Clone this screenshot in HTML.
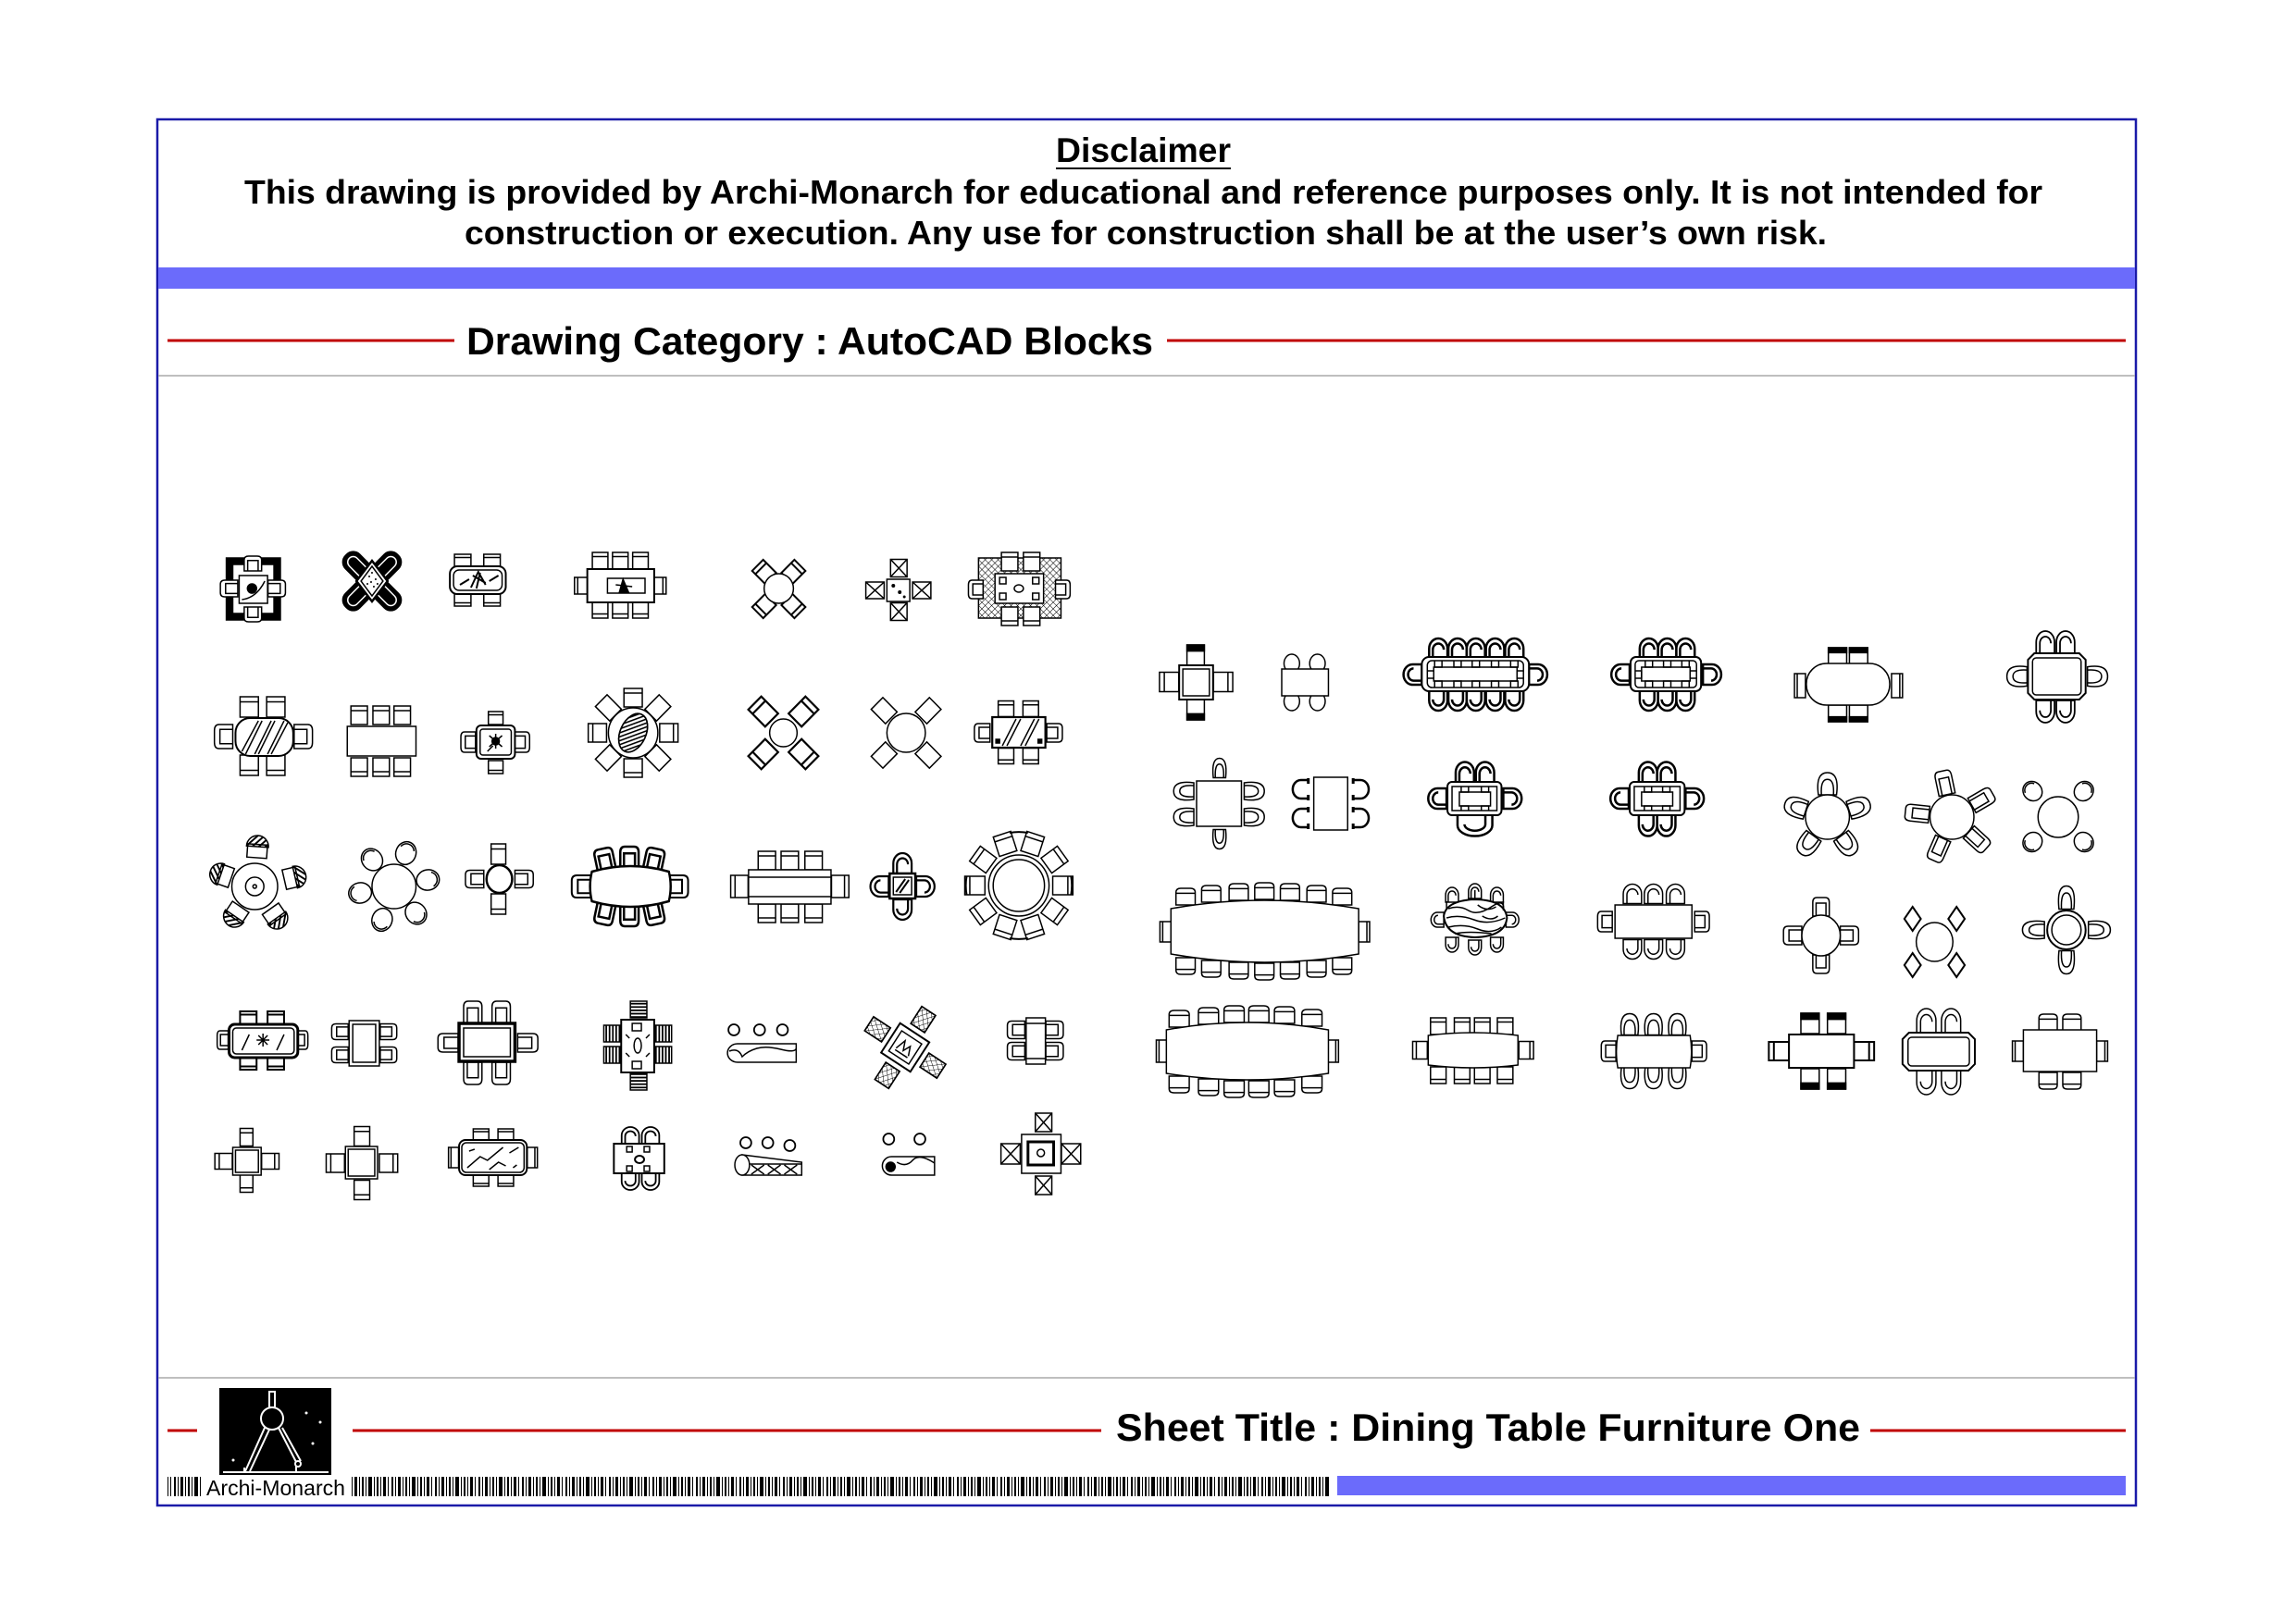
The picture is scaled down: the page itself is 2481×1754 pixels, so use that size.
<!DOCTYPE html>
<html><head><meta charset="utf-8"><style>
html,body{margin:0;padding:0;background:#fff}
svg{display:block}
.f *{vector-effect:non-scaling-stroke}
.t{font-family:"Liberation Sans",Arial,sans-serif;font-weight:bold;fill:#000}
</style></head>
<body>
<svg xmlns="http://www.w3.org/2000/svg" xmlns:xlink="http://www.w3.org/1999/xlink" width="2481" height="1754" viewBox="0 0 2481 1754">
<defs>
<pattern id="ht" width="4" height="4" patternUnits="userSpaceOnUse" patternTransform="rotate(45)"><rect width="1.6" height="4" fill="#000"/></pattern>
<pattern id="hx" width="5" height="5" patternUnits="userSpaceOnUse" patternTransform="rotate(45)"><path d="M0,0V5M0,0H5" stroke="#000" stroke-width="1" fill="none"/></pattern>
<pattern id="hs" width="4" height="4" patternUnits="userSpaceOnUse"><rect width="4" height="2" fill="#000"/></pattern>
<pattern id="bc" width="47" height="30" patternUnits="userSpaceOnUse" x="0" y="1596">
<rect x="0" width="2" height="30"/><rect x="4" width="1" height="30"/><rect x="7" width="3" height="30"/><rect x="12" width="1" height="30"/><rect x="15" width="2" height="30"/><rect x="19" width="1" height="30"/><rect x="22" width="4" height="30"/><rect x="28" width="1" height="30"/><rect x="31" width="2" height="30"/><rect x="35" width="1" height="30"/><rect x="38" width="3" height="30"/><rect x="43" width="1" height="30"/>
</pattern>
<g id="A" class="f"><rect x="-10" y="-10" width="20" height="20"/><line x1="-10" y1="-5" x2="10" y2="-5"/></g>
<g id="B" class="f"><path d="M-10,10V0A10,10 0 0 1 10,0V10Z"/><path d="M-6,10V1A6,6 0 0 1 6,1" fill="none"/></g>
<g id="C" class="f"><path d="M-10,10V-5Q-10,-10 -5,-10H5Q10,-10 10,-5V10Z"/><path d="M-6,10V-4H6V10" fill="none"/></g>
<g id="D" class="f"><rect x="-10" y="-10" width="20" height="20"/><rect x="-10" y="-10" width="20" height="6" fill="#000"/></g>
<g id="H" class="f"><rect x="-9" y="-2" width="18" height="12"/><path d="M-10,0A10,10 0 0 1 10,0Z" fill="url(#ht)"/></g>
<g id="X" class="f"><rect x="-10" y="-10" width="20" height="20"/><path d="M-10,-10L10,10M10,-10L-10,10" fill="none"/></g>
<g id="E" class="f"><ellipse rx="10" ry="10"/><path d="M-7,-4A8,8 0 0 1 7,-4" fill="none"/></g>
<g id="R" class="f"><path d="M-9,10Q-12,-10 0,-10Q12,-10 9,10Z"/><path d="M-6,10Q-7,-4 0,-4Q7,-4 6,10" fill="none"/></g>
<g id="K" class="f"><path d="M-10,8V0A10,9 0 0 1 10,0V8" fill="none" stroke-width="2.5"/><path d="M-12,8H-6M6,8H12" stroke-width="3"/></g>
<g id="S" class="f"><rect x="-10" y="-10" width="20" height="20" fill="url(#hs)"/></g>
<g id="G" class="f"><path d="M-10,10V-5Q-10,-10 -5,-10H5Q10,-10 10,-5V10Z"/><line x1="-10" y1="-4" x2="10" y2="-4"/></g>
<g id="P" class="f"><rect x="-10" y="-10" width="20" height="20"/></g>
<g id="Q" class="f"><rect x="-10" y="-10" width="20" height="20" fill="url(#hx)"/><rect x="-10" y="-10" width="20" height="20" fill="none"/></g>
</defs>

<rect width="2481" height="1754" fill="#fff"/>

<!-- Frame -->
<rect x="170" y="129" width="2138" height="1498" fill="none" stroke="#1a1aa8" stroke-width="2.5"/>
<rect x="171" y="289" width="2136" height="23" fill="#6b6bfb"/>
<line x1="171" y1="406" x2="2307" y2="406" stroke="#aaa" stroke-width="1.5"/>
<line x1="171" y1="1489" x2="2307" y2="1489" stroke="#aaa" stroke-width="1.5"/>

<!-- Header -->
<text class="t" x="1141" y="175" font-size="37" textLength="189" lengthAdjust="spacingAndGlyphs">Disclaimer</text>
<line x1="1141" y1="182" x2="1330" y2="182" stroke="#000" stroke-width="2"/>
<text class="t" x="264" y="220" font-size="36" textLength="1943" lengthAdjust="spacingAndGlyphs">This drawing is provided by Archi-Monarch for educational and reference purposes only. It is not intended for</text>
<text class="t" x="502" y="264" font-size="36" textLength="1472" lengthAdjust="spacingAndGlyphs">construction or execution. Any use for construction shall be at the user’s own risk.</text>

<line x1="181" y1="368" x2="491" y2="368" stroke="#c00000" stroke-width="3"/>
<text class="t" x="504" y="383" font-size="42" textLength="742" lengthAdjust="spacingAndGlyphs">Drawing Category : AutoCAD Blocks</text>
<line x1="1261" y1="368" x2="2297" y2="368" stroke="#c00000" stroke-width="3"/>

<!-- Footer -->
<line x1="181" y1="1546" x2="213" y2="1546" stroke="#c00000" stroke-width="3"/>
<line x1="381" y1="1546" x2="1190" y2="1546" stroke="#c00000" stroke-width="3"/>
<text class="t" x="1206" y="1557" font-size="42" textLength="804" lengthAdjust="spacingAndGlyphs">Sheet Title : Dining Table Furniture One</text>
<line x1="2021" y1="1546" x2="2297" y2="1546" stroke="#c00000" stroke-width="3"/>

<rect x="237" y="1500" width="121" height="94" fill="#000"/>
<g stroke="#fff" stroke-width="2" fill="none">
<rect x="291" y="1504" width="6" height="17"/>
<circle cx="294" cy="1533" r="12"/>
<path d="M286,1543 L265,1590 M291,1545 L270,1590"/>
<path d="M301,1543 L320,1580 M305,1543 L325,1579"/>
<circle cx="322" cy="1582" r="3"/>
<line x1="241" y1="1591" x2="355" y2="1591"/>
<path d="M264,1586v5M320,1584v7"/>
</g>
<g fill="#fff"><circle cx="331" cy="1527" r="1.5"/><circle cx="346" cy="1537" r="1.5"/><circle cx="338" cy="1560" r="1.5"/><circle cx="252" cy="1578" r="1.5"/></g>
<text x="223" y="1616" font-family="Liberation Sans, Arial, sans-serif" font-size="23" textLength="150" lengthAdjust="spacingAndGlyphs" fill="#000">Archi-Monarch</text>
<rect x="181" y="1596" width="38" height="21" fill="url(#bc)"/>
<rect x="378" y="1596" width="1058" height="21" fill="url(#bc)"/>
<rect x="1445" y="1595" width="852" height="21" fill="#6b6bfb"/>

<!-- Furniture -->
<g fill="#fff" stroke="#000" stroke-width="1.5">
<g transform="translate(400,0) scale(0.99,1) translate(-400,0)">

<!-- L1 -->
<rect x="243" y="603" width="59" height="67" fill="#000"/>
<rect x="250" y="610" width="45" height="53" fill="#fff"/>
<use xlink:href="#C" transform="translate(272,609) scale(0.95,0.8)"/>
<use xlink:href="#C" transform="translate(272,664) rotate(180) scale(0.95,0.8)"/>
<use xlink:href="#C" transform="translate(246,636) rotate(-90) scale(0.9,0.95)"/>
<use xlink:href="#C" transform="translate(298,636) rotate(90) scale(0.9,0.95)"/>
<rect x="257" y="622" width="31" height="30"/>
<circle cx="271" cy="636" r="5" fill="#000"/>
<path d="M260,648 Q276,646 285,628" fill="none"/>

<!-- L2 -->
<g transform="translate(402,628)">
<rect x="-40" y="-11" width="80" height="22" rx="10" fill="#000" transform="rotate(45)"/>
<rect x="-40" y="-11" width="80" height="22" rx="10" fill="#000" transform="rotate(-45)"/>
<rect x="-35" y="-6" width="70" height="12" rx="6" fill="none" stroke="#fff" transform="rotate(45)"/>
<rect x="-35" y="-6" width="70" height="12" rx="6" fill="none" stroke="#fff" transform="rotate(-45)"/>
<path d="M0,-22L17,0L0,22L-17,0Z" stroke-width="2.5"/>
<path d="M0,-16L12,0L0,16L-12,0Z" fill="none"/>
<g fill="#000" stroke="none"><circle cx="-3" cy="-5" r="1"/><circle cx="4" cy="-2" r="1"/><circle cx="-5" cy="3" r="1"/><circle cx="2" cy="6" r="1"/><circle cx="6" cy="3" r="1"/><circle cx="0" cy="-9" r="1"/><circle cx="-1" cy="1" r="1"/></g>
</g>

<!-- L3 -->
<use xlink:href="#A" transform="translate(501,606) scale(0.9,0.7)"/>
<use xlink:href="#A" transform="translate(533,606) scale(0.9,0.7)"/>
<use xlink:href="#A" transform="translate(501,648) rotate(180) scale(0.9,0.7)"/>
<use xlink:href="#A" transform="translate(533,648) rotate(180) scale(0.9,0.7)"/>
<rect x="487" y="612" width="61" height="30" rx="8" stroke-width="2"/>
<rect x="491" y="616" width="53" height="22" rx="6" fill="none"/>
<path d="M510,635 L518,618 L526,632 M512,622 L526,630 M520,619 L516,636 M498,632 L508,626 M530,628 L540,622" fill="none" stroke-width="2"/>

<!-- L4 -->
<use xlink:href="#A" transform="translate(651,606) scale(0.85,0.9)"/>
<use xlink:href="#A" transform="translate(673,606) scale(0.85,0.9)"/>
<use xlink:href="#A" transform="translate(695,606) scale(0.85,0.9)"/>
<use xlink:href="#A" transform="translate(651,659) rotate(180) scale(0.85,0.9)"/>
<use xlink:href="#A" transform="translate(673,659) rotate(180) scale(0.85,0.9)"/>
<use xlink:href="#A" transform="translate(695,659) rotate(180) scale(0.85,0.9)"/>
<use xlink:href="#A" transform="translate(630,633) rotate(-90) scale(0.9,0.7)"/>
<use xlink:href="#A" transform="translate(716,633) rotate(90) scale(0.9,0.7)"/>
<rect x="637" y="615" width="73" height="36" stroke-width="2"/>
<rect x="659" y="625" width="41" height="16"/>
<path d="M672,640 L676,626 L682,640 Z M668,632 L686,634" fill="#000"/>

<!-- L5 -->
<use xlink:href="#A" transform="translate(830,618) rotate(-45) scale(0.85,1)" stroke-width="2"/>
<use xlink:href="#A" transform="translate(862,618) rotate(45) scale(0.85,1)" stroke-width="2"/>
<use xlink:href="#A" transform="translate(862,655) rotate(135) scale(0.85,1)" stroke-width="2"/>
<use xlink:href="#A" transform="translate(830,655) rotate(-135) scale(0.85,1)" stroke-width="2"/>
<circle cx="846" cy="636" r="16"/>

<!-- L6 -->
<use xlink:href="#X" transform="translate(977,614) scale(0.9,0.95)"/>
<use xlink:href="#X" transform="translate(977,661) rotate(180) scale(0.9,0.95)"/>
<use xlink:href="#X" transform="translate(951,638) rotate(-90) scale(0.9,1)"/>
<use xlink:href="#X" transform="translate(1002,638) rotate(90) scale(0.9,1)"/>
<rect x="964" y="626" width="25" height="24"/>
<g fill="#000" stroke="none"><circle cx="971" cy="633" r="2"/><circle cx="978" cy="640" r="2"/><circle cx="983" cy="645" r="1.5"/></g>

<!-- L7 -->
<rect x="1064" y="603" width="90" height="65" fill="url(#hx)"/>
<use xlink:href="#A" transform="translate(1098,607) scale(0.9,1)"/>
<use xlink:href="#A" transform="translate(1122,607) scale(0.9,1)"/>
<use xlink:href="#A" transform="translate(1098,666) rotate(180) scale(0.9,1)"/>
<use xlink:href="#A" transform="translate(1122,666) rotate(180) scale(0.9,1)"/>
<use xlink:href="#C" transform="translate(1061,637) rotate(-90) scale(1,0.8)"/>
<use xlink:href="#C" transform="translate(1156,637) rotate(90) scale(1,0.8)"/>
<rect x="1082" y="620" width="53" height="32"/>
<rect x="1087" y="624" width="7" height="7"/><rect x="1123" y="624" width="7" height="7"/><rect x="1087" y="641" width="7" height="7"/><rect x="1123" y="641" width="7" height="7"/>
<ellipse cx="1108" cy="636" rx="5" ry="4"/>

<!-- L8 -->
<use xlink:href="#A" transform="translate(268,764) scale(1,1.1)"/>
<use xlink:href="#A" transform="translate(297,764) scale(1,1.1)"/>
<use xlink:href="#A" transform="translate(268,827) rotate(180) scale(1,1.1)"/>
<use xlink:href="#A" transform="translate(297,827) rotate(180) scale(1,1.1)"/>
<use xlink:href="#C" transform="translate(240,796) rotate(-90) scale(1.3,1)"/>
<use xlink:href="#C" transform="translate(327,796) rotate(90) scale(1.3,1)"/>
<rect x="253" y="776" width="63" height="41" rx="16" stroke-width="2"/>
<path d="M260,812 L278,779 M264,815 L282,779 M274,815 L292,779 M278,815 L296,779 M288,815 L306,779 M292,815 L310,781" fill="none"/>

<!-- L9 -->
<use xlink:href="#A" transform="translate(388,773) scale(0.9,1)"/>
<use xlink:href="#A" transform="translate(412,773) scale(0.9,1)"/>
<use xlink:href="#A" transform="translate(435,773) scale(0.9,1)"/>
<use xlink:href="#A" transform="translate(388,829) rotate(180) scale(0.9,1)"/>
<use xlink:href="#A" transform="translate(412,829) rotate(180) scale(0.9,1)"/>
<use xlink:href="#A" transform="translate(435,829) rotate(180) scale(0.9,1)"/>
<rect x="375" y="785" width="75" height="32"/>

<!-- L10 -->
<use xlink:href="#A" transform="translate(537,776) scale(0.8,0.7)"/>
<use xlink:href="#A" transform="translate(537,829) rotate(180) scale(0.8,0.7)"/>
<use xlink:href="#C" transform="translate(507,802) rotate(-90) scale(1.1,0.8)"/>
<use xlink:href="#C" transform="translate(566,802) rotate(90) scale(1.1,0.8)"/>
<rect x="516" y="784" width="42" height="36" rx="5" stroke-width="2"/>
<rect x="520" y="788" width="34" height="28" rx="3" fill="none"/>
<circle cx="537" cy="801" r="4" fill="#000"/>
<path d="M530,795 L544,807 M544,795 L530,807 M537,793 V809 M528,812 L534,806" fill="none"/>

<!-- L11 -->
<use xlink:href="#A" transform="translate(687,754) scale(1,1)"/>
<use xlink:href="#A" transform="translate(687,830) rotate(180)"/>
<use xlink:href="#A" transform="translate(648,792) rotate(-90)"/>
<use xlink:href="#A" transform="translate(726,792) rotate(90)"/>
<use xlink:href="#P" transform="translate(660,765) rotate(-45) scale(0.9,1.1)"/>
<use xlink:href="#P" transform="translate(714,765) rotate(45) scale(0.9,1.1)"/>
<use xlink:href="#P" transform="translate(714,819) rotate(135) scale(0.9,1.1)"/>
<use xlink:href="#P" transform="translate(660,819) rotate(-135) scale(0.9,1.1)"/>
<circle cx="687" cy="792" r="27"/>
<ellipse cx="687" cy="792" rx="14" ry="22" fill="url(#ht)" transform="rotate(25 687 792)"/>
<ellipse cx="687" cy="792" rx="14" ry="22" fill="none" transform="rotate(25 687 792)"/>

<!-- L12 -->
<use xlink:href="#A" transform="translate(829,769) rotate(-45) scale(1,1.3)" stroke-width="2.2"/>
<use xlink:href="#A" transform="translate(873,769) rotate(45) scale(1,1.3)" stroke-width="2.2"/>
<use xlink:href="#A" transform="translate(873,815) rotate(135) scale(1,1.3)" stroke-width="2.2"/>
<use xlink:href="#A" transform="translate(829,815) rotate(-135) scale(1,1.3)" stroke-width="2.2"/>
<circle cx="851" cy="792" r="15"/>

<!-- L13 -->
<use xlink:href="#P" transform="translate(961,768) rotate(-45) scale(0.9,1.1)"/>
<use xlink:href="#P" transform="translate(1009,768) rotate(45) scale(0.9,1.1)"/>
<use xlink:href="#P" transform="translate(1009,816) rotate(135) scale(0.9,1.1)"/>
<use xlink:href="#P" transform="translate(961,816) rotate(-135) scale(0.9,1.1)"/>
<circle cx="985" cy="792" r="21"/>

<!-- L14 -->
<use xlink:href="#A" transform="translate(1094,766) scale(0.85,0.85)"/>
<use xlink:href="#A" transform="translate(1121,766) scale(0.85,0.85)"/>
<use xlink:href="#A" transform="translate(1094,817) rotate(180) scale(0.85,0.85)"/>
<use xlink:href="#A" transform="translate(1121,817) rotate(180) scale(0.85,0.85)"/>
<use xlink:href="#C" transform="translate(1068,792) rotate(-90) scale(1,0.85)"/>
<use xlink:href="#C" transform="translate(1147,792) rotate(90) scale(1,0.85)"/>
<rect x="1079" y="775" width="58" height="33" stroke-width="2.2"/>
<path d="M1090,806 L1105,777 M1095,806 L1110,777 M1110,806 L1125,777 M1115,806 L1130,777" fill="none"/>
<rect x="1083" y="799" width="4" height="4" fill="#000"/><rect x="1129" y="799" width="4" height="4" fill="#000"/>

<!-- L15 -->
<use xlink:href="#H" transform="translate(277,915) rotate(4) scale(1.2,1.2)"/>
<use xlink:href="#H" transform="translate(318,948) rotate(77) scale(1.2,1.2)"/>
<use xlink:href="#H" transform="translate(298,992) rotate(145) scale(1.2,1.2)"/>
<use xlink:href="#H" transform="translate(252,990) rotate(214) scale(1.2,1.2)"/>
<use xlink:href="#H" transform="translate(237,945) rotate(289) scale(1.2,1.2)"/>
<circle cx="274" cy="958" r="25"/>
<circle cx="274" cy="958" r="10" fill="none"/>
<circle cx="274" cy="958" r="2" fill="none"/>

<!-- L16 -->
<use xlink:href="#E" transform="translate(439,922) rotate(20) scale(1.1,1.25)"/>
<use xlink:href="#E" transform="translate(463,951) rotate(80) scale(1.1,1.25)"/>
<use xlink:href="#E" transform="translate(450,987) rotate(140) scale(1.1,1.25)"/>
<use xlink:href="#E" transform="translate(413,994) rotate(200) scale(1.1,1.25)"/>
<use xlink:href="#E" transform="translate(389,965) rotate(260) scale(1.1,1.25)"/>
<use xlink:href="#E" transform="translate(402,929) rotate(320) scale(1.1,1.25)"/>
<circle cx="426" cy="958" r="24"/>

<!-- L17 -->
<use xlink:href="#A" transform="translate(540,923) scale(0.8,1.1)"/>
<use xlink:href="#A" transform="translate(540,977) rotate(180) scale(0.8,1.1)"/>
<use xlink:href="#C" transform="translate(514,950) rotate(-90) scale(0.95,1)"/>
<use xlink:href="#C" transform="translate(568,950) rotate(90) scale(0.95,1)"/>
<ellipse cx="541" cy="950" rx="14" ry="15" stroke-width="2.5"/>

<!-- L18 -->
<use xlink:href="#C" transform="translate(656,929) rotate(-12) scale(1,1.2)" stroke-width="2.5"/>
<use xlink:href="#C" transform="translate(683,927) scale(1,1.2)" stroke-width="2.5"/>
<use xlink:href="#C" transform="translate(710,929) rotate(12) scale(1,1.2)" stroke-width="2.5"/>
<use xlink:href="#C" transform="translate(656,987) rotate(192) scale(1,1.2)" stroke-width="2.5"/>
<use xlink:href="#C" transform="translate(683,989) rotate(180) scale(1,1.2)" stroke-width="2.5"/>
<use xlink:href="#C" transform="translate(710,987) rotate(168) scale(1,1.2)" stroke-width="2.5"/>
<use xlink:href="#C" transform="translate(631,958) rotate(-90) scale(1.2,1.1)" stroke-width="2"/>
<use xlink:href="#C" transform="translate(736,958) rotate(90) scale(1.2,1.1)" stroke-width="2"/>
<path d="M642,942 Q684,930 726,942 Q730,958 726,974 Q684,986 642,974 Q638,958 642,942 Z" stroke-width="2.5"/>

<!-- L19 -->
<use xlink:href="#A" transform="translate(833,930) scale(0.95,1)"/>
<use xlink:href="#A" transform="translate(858,930) scale(0.95,1)"/>
<use xlink:href="#A" transform="translate(884,930) scale(0.95,1)"/>
<use xlink:href="#A" transform="translate(833,987) rotate(180) scale(0.95,1)"/>
<use xlink:href="#A" transform="translate(858,987) rotate(180) scale(0.95,1)"/>
<use xlink:href="#A" transform="translate(884,987) rotate(180) scale(0.95,1)"/>
<use xlink:href="#A" transform="translate(803,958) rotate(-90) scale(1.2,0.95)"/>
<use xlink:href="#A" transform="translate(913,958) rotate(90) scale(1.2,0.95)"/>
<rect x="813" y="940" width="90" height="37"/>
<path d="M813,948 H903 M813,969 H903" fill="none"/>

<!-- L20 -->
<use xlink:href="#B" transform="translate(981,933) scale(1,1.1)" stroke-width="2.2"/>
<use xlink:href="#B" transform="translate(981,983) rotate(180) scale(1,1.1)" stroke-width="2.2"/>
<use xlink:href="#B" transform="translate(956,958) rotate(-90) scale(1.1,1)" stroke-width="2.2"/>
<use xlink:href="#B" transform="translate(1006,958) rotate(90) scale(1.1,1)" stroke-width="2.2"/>
<rect x="967" y="944" width="28" height="27" stroke-width="2.5"/>
<rect x="971" y="948" width="20" height="19" fill="none"/>
<path d="M974,964 L984,950 M978,965 L988,951" fill="none" stroke-width="2"/>

<!-- L21 -->
<use xlink:href="#A" transform="translate(1093,912) rotate(-18) scale(1,1.1)"/>
<use xlink:href="#A" transform="translate(1123,912) rotate(18) scale(1,1.1)"/>
<use xlink:href="#A" transform="translate(1147,929) rotate(54) scale(1,1.1)"/>
<use xlink:href="#A" transform="translate(1156,957) rotate(90) scale(1,1.1)"/>
<use xlink:href="#A" transform="translate(1147,985) rotate(126) scale(1,1.1)"/>
<use xlink:href="#A" transform="translate(1123,1002) rotate(162) scale(1,1.1)"/>
<use xlink:href="#A" transform="translate(1093,1002) rotate(198) scale(1,1.1)"/>
<use xlink:href="#A" transform="translate(1069,985) rotate(234) scale(1,1.1)"/>
<use xlink:href="#A" transform="translate(1060,957) rotate(270) scale(1,1.1)"/>
<use xlink:href="#A" transform="translate(1069,929) rotate(306) scale(1,1.1)"/>
<circle cx="1108" cy="957" r="33"/>
<circle cx="1108" cy="957" r="28" fill="none"/>
<g fill="none" stroke-width="2"><path d="M1051,947 A58,58 0 0 0 1051,967"/><path d="M1165,947 A58,58 0 0 1 1165,967"/><path d="M1098,900 A58,58 0 0 1 1118,900"/><path d="M1098,1014 A58,58 0 0 0 1118,1014"/></g>

<!-- L22 -->
<use xlink:href="#A" transform="translate(267,1100) scale(0.9,0.7)" stroke-width="2"/>
<use xlink:href="#A" transform="translate(297,1100) scale(0.9,0.7)" stroke-width="2"/>
<use xlink:href="#A" transform="translate(267,1149) rotate(180) scale(0.9,0.7)" stroke-width="2"/>
<use xlink:href="#A" transform="translate(297,1149) rotate(180) scale(0.9,0.7)" stroke-width="2"/>
<use xlink:href="#C" transform="translate(239,1124) rotate(-90) scale(1,0.6)"/>
<use xlink:href="#C" transform="translate(326,1124) rotate(90) scale(1,0.6)"/>
<rect x="246" y="1107" width="75" height="36" rx="6" stroke-width="3"/>
<rect x="250" y="1111" width="67" height="28" rx="4" fill="none"/>
<path d="M260,1135 L268,1118 M298,1135 L306,1118 M276,1124 H290 M283,1117 V1131 M278,1119 L288,1129 M288,1119 L278,1129" fill="none"/>

<!-- L23 -->
<use xlink:href="#C" transform="translate(367,1115) rotate(-90) scale(0.85,0.9)"/>
<use xlink:href="#C" transform="translate(367,1140) rotate(-90) scale(0.85,0.9)"/>
<use xlink:href="#C" transform="translate(420,1115) rotate(90) scale(0.85,0.9)"/>
<use xlink:href="#C" transform="translate(420,1140) rotate(90) scale(0.85,0.9)"/>
<rect x="377" y="1103" width="33" height="49"/>
<rect x="381" y="1107" width="25" height="41" fill="none"/>

<!-- L24 -->
<use xlink:href="#C" transform="translate(512,1094) scale(1,1.2)"/>
<use xlink:href="#C" transform="translate(543,1094) scale(1,1.2)"/>
<use xlink:href="#C" transform="translate(512,1160) rotate(180) scale(1,1.2)"/>
<use xlink:href="#C" transform="translate(543,1160) rotate(180) scale(1,1.2)"/>
<use xlink:href="#C" transform="translate(485,1127) rotate(-90) scale(1,1.1)"/>
<use xlink:href="#C" transform="translate(572,1127) rotate(90) scale(1,1.1)"/>
<rect x="497" y="1106" width="61" height="41" stroke-width="3.5"/>
<rect x="502" y="1111" width="51" height="31" fill="none"/>

<!-- L25 -->
<use xlink:href="#S" transform="translate(664,1117) rotate(-90) scale(0.9,0.9)"/>
<use xlink:href="#S" transform="translate(664,1140) rotate(-90) scale(0.9,0.9)"/>
<use xlink:href="#S" transform="translate(720,1117) rotate(90) scale(0.9,0.9)"/>
<use xlink:href="#S" transform="translate(720,1140) rotate(90) scale(0.9,0.9)"/>
<use xlink:href="#S" transform="translate(693,1091) scale(0.9,0.9)"/>
<use xlink:href="#S" transform="translate(693,1169) rotate(180) scale(0.9,0.9)"/>
<rect x="674" y="1102" width="36" height="57" stroke-width="2"/>
<rect x="686" y="1106" width="10" height="8"/><rect x="686" y="1147" width="10" height="8"/>
<ellipse cx="692" cy="1130" rx="4" ry="8"/>
<path d="M679,1118 l4,4 M679,1138 l4,4 M705,1118 l-4,4 M705,1138 l-4,4" fill="none"/>

<!-- L26 -->
<circle cx="797" cy="1113" r="6" fill="none" stroke-width="1.8"/>
<circle cx="825" cy="1113" r="6" fill="none" stroke-width="1.8"/>
<circle cx="850" cy="1113" r="6" fill="none" stroke-width="1.8"/>
<path d="M801,1128 H865 V1148 H801 A11,10 0 0 1 801,1128 Z"/>
<path d="M792,1136 Q802,1132 806,1142 Q812,1136 822,1133 T848,1134 T865,1133" fill="none"/>

<!-- L27 -->
<g transform="translate(984,1132) rotate(33)">
<use xlink:href="#Q" transform="translate(0,-36) scale(0.9,1.1)"/>
<use xlink:href="#Q" transform="translate(36,0) rotate(90) scale(0.9,1.1)"/>
<use xlink:href="#Q" transform="translate(0,36) rotate(180) scale(0.9,1.1)"/>
<use xlink:href="#Q" transform="translate(-36,0) rotate(-90) scale(0.9,1.1)"/>
<rect x="-19" y="-19" width="38" height="38" stroke-width="2"/>
<rect x="-13" y="-13" width="26" height="26" fill="none"/>
<path d="M-8,6 L-4,-6 L0,4 L4,-4 L8,6 M-8,8 H8" fill="none"/>
</g>

<!-- L28 -->
<use xlink:href="#C" transform="translate(1105,1113) rotate(-90) scale(0.95,0.95)"/>
<use xlink:href="#C" transform="translate(1105,1136) rotate(-90) scale(0.95,0.95)"/>
<use xlink:href="#C" transform="translate(1147,1113) rotate(90) scale(0.95,0.95)"/>
<use xlink:href="#C" transform="translate(1147,1136) rotate(90) scale(0.95,0.95)"/>
<rect x="1116" y="1100" width="21" height="50"/>
<path d="M1116,1106 H1137 M1116,1144 H1137" fill="none"/>

<!-- L29 -->
<use xlink:href="#A" transform="translate(265,1229) scale(0.7,0.95)"/>
<use xlink:href="#A" transform="translate(265,1279) rotate(180) scale(0.7,0.95)"/>
<use xlink:href="#A" transform="translate(240,1255) rotate(-90) scale(0.85,0.95)"/>
<use xlink:href="#A" transform="translate(291,1255) rotate(90) scale(0.85,0.95)"/>
<rect x="250" y="1240" width="31" height="30"/>
<rect x="253" y="1243" width="25" height="24" fill="none"/>

<!-- L30 -->
<use xlink:href="#A" transform="translate(391,1228) scale(0.85,1.05)"/>
<use xlink:href="#A" transform="translate(391,1286) rotate(180) scale(0.85,1.05)"/>
<use xlink:href="#A" transform="translate(362,1257) rotate(-90) scale(1,1)"/>
<use xlink:href="#A" transform="translate(420,1257) rotate(90) scale(1,1)"/>
<rect x="373" y="1239" width="35" height="35"/>
<rect x="376" y="1242" width="29" height="29" fill="none"/>

<!-- L31 -->
<use xlink:href="#A" transform="translate(521,1226) scale(0.85,0.6)"/>
<use xlink:href="#A" transform="translate(548,1226) scale(0.85,0.6)"/>
<use xlink:href="#A" transform="translate(521,1276) rotate(180) scale(0.85,0.6)"/>
<use xlink:href="#A" transform="translate(548,1276) rotate(180) scale(0.85,0.6)"/>
<use xlink:href="#A" transform="translate(491,1251) rotate(-90) scale(1.1,0.55)"/>
<use xlink:href="#A" transform="translate(577,1251) rotate(90) scale(1.1,0.55)"/>
<rect x="497" y="1232" width="74" height="38" rx="7" stroke-width="2"/>
<rect x="500" y="1235" width="68" height="32" rx="5" fill="none"/>
<path d="M506,1262 L520,1250 L528,1254 L545,1240 M530,1264 L540,1256 L548,1260 M552,1246 L562,1240 M508,1244 L514,1242 M556,1262 l4,-3" fill="none"/>

<!-- L32 -->
<use xlink:href="#B" transform="translate(684,1227) scale(0.95,0.9)" stroke-width="1.8"/>
<use xlink:href="#B" transform="translate(706,1227) scale(0.95,0.9)" stroke-width="1.8"/>
<use xlink:href="#B" transform="translate(684,1277) rotate(180) scale(0.95,0.9)" stroke-width="1.8"/>
<use xlink:href="#B" transform="translate(706,1277) rotate(180) scale(0.95,0.9)" stroke-width="1.8"/>
<rect x="666" y="1236" width="55" height="32" stroke-width="2"/>
<rect x="680" y="1239" width="6" height="6"/><rect x="699" y="1239" width="6" height="6"/><rect x="680" y="1260" width="6" height="6"/><rect x="699" y="1260" width="6" height="6"/>
<ellipse cx="694" cy="1253" rx="5" ry="4" stroke-width="2"/>

<!-- L33 -->
<circle cx="810" cy="1235" r="6" fill="none" stroke-width="1.8"/>
<circle cx="834" cy="1235" r="6" fill="none" stroke-width="1.8"/>
<circle cx="858" cy="1238" r="6" fill="none" stroke-width="1.8"/>
<path d="M806,1248 L871,1256 V1270 H806 Z"/>
<ellipse cx="806" cy="1259" rx="8" ry="11"/>
<path d="M814,1258 H871 M816,1259 L830,1269 M830,1259 L816,1269 M834,1259 L848,1269 M848,1259 L834,1269 M852,1259 L866,1269 M866,1259 L852,1269" fill="none"/>

<!-- L34 -->
<circle cx="966" cy="1231" r="6" fill="none" stroke-width="1.8"/>
<circle cx="1000" cy="1231" r="6" fill="none" stroke-width="1.8"/>
<path d="M969,1250 H1016 V1270 H969 A10,10 0 0 1 969,1250 Z"/>
<path d="M975,1256 Q985,1262 992,1254 T1016,1257" fill="none"/>
<circle cx="968" cy="1261" r="5" fill="#000"/>

<!-- L35 -->
<use xlink:href="#X" transform="translate(1135,1213) scale(0.9,1)"/>
<use xlink:href="#X" transform="translate(1135,1281) rotate(180) scale(0.9,1)"/>
<use xlink:href="#X" transform="translate(1099,1247) rotate(-90) scale(1.1,1.05)"/>
<use xlink:href="#X" transform="translate(1165,1247) rotate(90) scale(1.1,1.05)"/>
<rect x="1111" y="1226" width="43" height="42"/>
<rect x="1118" y="1234" width="28" height="25" stroke-width="3"/>
<circle cx="1132" cy="1246" r="4"/>
</g>

<g transform="translate(1292,0) scale(0.9894,1) translate(-1292,0)">
<!-- ===== Right grid ===== -->
<!-- R1 -->
<use xlink:href="#D" transform="translate(1292,708) scale(0.95,1.1)"/>
<use xlink:href="#D" transform="translate(1292,767) rotate(180) scale(0.95,1.1)"/>
<use xlink:href="#A" transform="translate(1263,737) rotate(-90) scale(1.05,1.05)"/>
<use xlink:href="#A" transform="translate(1322,737) rotate(90) scale(1.05,1.05)"/>
<rect x="1274" y="719" width="37" height="37" stroke-width="2"/>
<rect x="1278" y="723" width="29" height="29" fill="none"/>

<!-- R2 -->
<ellipse cx="1397" cy="717" rx="8.5" ry="10"/>
<ellipse cx="1425" cy="717" rx="8.5" ry="10"/>
<ellipse cx="1397" cy="758" rx="8.5" ry="10"/>
<ellipse cx="1425" cy="758" rx="8.5" ry="10"/>
<rect x="1386" y="723" width="51" height="29"/>

<!-- R3 -->
<use xlink:href="#B" transform="translate(1557,701) scale(1,1.1)" stroke-width="2.5"/>
<use xlink:href="#B" transform="translate(1578,701) scale(1,1.1)" stroke-width="2.5"/>
<use xlink:href="#B" transform="translate(1598,701) scale(1,1.1)" stroke-width="2.5"/>
<use xlink:href="#B" transform="translate(1619,701) scale(1,1.1)" stroke-width="2.5"/>
<use xlink:href="#B" transform="translate(1640,701) scale(1,1.1)" stroke-width="2.5"/>
<use xlink:href="#B" transform="translate(1557,757) rotate(180) scale(1,1.1)" stroke-width="2.5"/>
<use xlink:href="#B" transform="translate(1578,757) rotate(180) scale(1,1.1)" stroke-width="2.5"/>
<use xlink:href="#B" transform="translate(1598,757) rotate(180) scale(1,1.1)" stroke-width="2.5"/>
<use xlink:href="#B" transform="translate(1619,757) rotate(180) scale(1,1.1)" stroke-width="2.5"/>
<use xlink:href="#B" transform="translate(1640,757) rotate(180) scale(1,1.1)" stroke-width="2.5"/>
<use xlink:href="#B" transform="translate(1529,729) rotate(-90) scale(1.1,1)" stroke-width="2.5"/>
<use xlink:href="#B" transform="translate(1666,729) rotate(90) scale(1.1,1)" stroke-width="2.5"/>
<rect x="1539" y="710" width="117" height="37" rx="8" stroke-width="2"/>
<rect x="1545" y="714" width="105" height="29" rx="5" fill="none"/>
<rect x="1552" y="721" width="91" height="15"/>
<path d="M1553,714v7h8v-7 M1574,714v7h8v-7 M1594,714v7h8v-7 M1615,714v7h8v-7 M1636,714v7h8v-7 M1553,743v-7h8v7 M1574,743v-7h8v7 M1594,743v-7h8v7 M1615,743v-7h8v7 M1636,743v-7h8v7 M1545,725h7v8h-7 M1650,725h-7v8h7" fill="none"/>

<!-- R4 -->
<use xlink:href="#B" transform="translate(1787,701) scale(1,1.1)" stroke-width="2.5"/>
<use xlink:href="#B" transform="translate(1807,701) scale(1,1.1)" stroke-width="2.5"/>
<use xlink:href="#B" transform="translate(1827,701) scale(1,1.1)" stroke-width="2.5"/>
<use xlink:href="#B" transform="translate(1787,757) rotate(180) scale(1,1.1)" stroke-width="2.5"/>
<use xlink:href="#B" transform="translate(1807,757) rotate(180) scale(1,1.1)" stroke-width="2.5"/>
<use xlink:href="#B" transform="translate(1827,757) rotate(180) scale(1,1.1)" stroke-width="2.5"/>
<use xlink:href="#B" transform="translate(1756,729) rotate(-90) scale(1.1,1)" stroke-width="2.5"/>
<use xlink:href="#B" transform="translate(1856,729) rotate(90) scale(1.1,1)" stroke-width="2.5"/>
<rect x="1767" y="710" width="77" height="37" rx="6" stroke-width="2"/>
<rect x="1772" y="714" width="67" height="29" rx="4" fill="none"/>
<rect x="1779" y="721" width="53" height="15"/>
<path d="M1783,714v7h8v-7 M1803,714v7h8v-7 M1823,714v7h8v-7 M1783,743v-7h8v7 M1803,743v-7h8v7 M1823,743v-7h8v7 M1772,725h7v8h-7 M1839,725h-7v8h7" fill="none"/>

<!-- R5 -->
<use xlink:href="#D" transform="translate(1993,709) scale(1,0.9)"/>
<use xlink:href="#D" transform="translate(2016,709) scale(1,0.9)"/>
<use xlink:href="#D" transform="translate(1993,771) rotate(180) scale(1,0.9)"/>
<use xlink:href="#D" transform="translate(2016,771) rotate(180) scale(1,0.9)"/>
<use xlink:href="#A" transform="translate(1952,741) rotate(-90) scale(1.3,0.6)"/>
<use xlink:href="#A" transform="translate(2058,741) rotate(90) scale(1.3,0.6)"/>
<rect x="1959" y="717" width="91" height="45" rx="22"/>

<!-- R6 -->
<use xlink:href="#B" transform="translate(2220,694) scale(1,1.2)" stroke-width="1.8"/>
<use xlink:href="#B" transform="translate(2242,694) scale(1,1.2)" stroke-width="1.8"/>
<use xlink:href="#B" transform="translate(2220,769) rotate(180) scale(1,1.2)" stroke-width="1.8"/>
<use xlink:href="#B" transform="translate(2242,769) rotate(180) scale(1,1.2)" stroke-width="1.8"/>
<use xlink:href="#R" transform="translate(2189,731) rotate(-90) scale(1.15,1.1)"/>
<use xlink:href="#R" transform="translate(2277,731) rotate(90) scale(1.15,1.1)"/>
<path d="M2208,706 H2257 L2264,713 V749 L2257,756 H2208 L2201,749 V713 Z" stroke-width="2"/>
<rect x="2206" y="711" width="53" height="40" rx="4" fill="none"/>

<!-- R7 -->
<use xlink:href="#R" transform="translate(1279,855) rotate(-90) scale(1,1.1)"/>
<use xlink:href="#R" transform="translate(1279,883) rotate(-90) scale(1,1.1)"/>
<use xlink:href="#R" transform="translate(1356,855) rotate(90) scale(1,1.1)"/>
<use xlink:href="#R" transform="translate(1356,883) rotate(90) scale(1,1.1)"/>
<use xlink:href="#R" transform="translate(1318,830) scale(0.75,1.05)"/>
<use xlink:href="#R" transform="translate(1318,907) rotate(180) scale(0.75,1.05)"/>
<rect x="1293" y="844" width="49" height="49"/>

<!-- R8 -->
<use xlink:href="#K" transform="translate(1407,853) rotate(-90)"/>
<use xlink:href="#K" transform="translate(1407,884) rotate(-90)"/>
<use xlink:href="#K" transform="translate(1472,853) rotate(90)"/>
<use xlink:href="#K" transform="translate(1472,884) rotate(90)"/>
<rect x="1421" y="840" width="37" height="57"/>

<!-- R9 -->
<use xlink:href="#B" transform="translate(1586,835) scale(1,1.15)" stroke-width="2.5"/>
<use xlink:href="#B" transform="translate(1608,835) scale(1,1.15)" stroke-width="2.5"/>
<use xlink:href="#B" transform="translate(1597,892) rotate(180) scale(1.9,1.15)" stroke-width="2.5"/>
<use xlink:href="#B" transform="translate(1556,863) rotate(-90) scale(1.1,1)" stroke-width="2.5"/>
<use xlink:href="#B" transform="translate(1638,863) rotate(90) scale(1.1,1)" stroke-width="2.5"/>
<rect x="1567" y="845" width="59" height="36" rx="5" stroke-width="2"/>
<rect x="1572" y="850" width="49" height="26" fill="none"/>
<rect x="1580" y="856" width="34" height="15"/>
<path d="M1582,850v6h8v-6 M1604,850v6h8v-6 M1582,876v-5h8v5 M1604,876v-5h8v5" fill="none"/>

<!-- R10 -->
<use xlink:href="#B" transform="translate(1786,835) scale(1,1.15)" stroke-width="2.5"/>
<use xlink:href="#B" transform="translate(1806,835) scale(1,1.15)" stroke-width="2.5"/>
<use xlink:href="#B" transform="translate(1786,892) rotate(180) scale(1,1.15)" stroke-width="2.5"/>
<use xlink:href="#B" transform="translate(1806,892) rotate(180) scale(1,1.15)" stroke-width="2.5"/>
<use xlink:href="#B" transform="translate(1755,863) rotate(-90) scale(1.1,1)" stroke-width="2.5"/>
<use xlink:href="#B" transform="translate(1837,863) rotate(90) scale(1.1,1)" stroke-width="2.5"/>
<rect x="1766" y="845" width="60" height="36" rx="5" stroke-width="2"/>
<rect x="1771" y="850" width="50" height="26" fill="none"/>
<rect x="1779" y="856" width="34" height="15"/>
<path d="M1782,850v6h8v-6 M1802,850v6h8v-6 M1782,876v-5h8v5 M1802,876v-5h8v5" fill="none"/>

<!-- R11 -->
<use xlink:href="#R" transform="translate(1982,847) scale(1.1,1.2)"/>
<use xlink:href="#R" transform="translate(2017,872) rotate(72) scale(1.1,1.2)"/>
<use xlink:href="#R" transform="translate(2004,913) rotate(144) scale(1.1,1.2)"/>
<use xlink:href="#R" transform="translate(1960,913) rotate(216) scale(1.1,1.2)"/>
<use xlink:href="#R" transform="translate(1947,872) rotate(288) scale(1.1,1.2)"/>
<circle cx="1982" cy="883" r="24"/>

<!-- R12 -->
<use xlink:href="#C" transform="translate(2110,846) rotate(-12) scale(0.9,1.3)"/>
<use xlink:href="#C" transform="translate(2151,864) rotate(60) scale(0.9,1.3)"/>
<use xlink:href="#C" transform="translate(2146,908) rotate(132) scale(0.9,1.3)"/>
<use xlink:href="#C" transform="translate(2103,918) rotate(204) scale(0.9,1.3)"/>
<use xlink:href="#C" transform="translate(2080,879) rotate(276) scale(0.9,1.3)"/>
<circle cx="2118" cy="883" r="24"/>

<!-- R13 -->
<use xlink:href="#E" transform="translate(2206,855) rotate(-45) scale(1,1.1)"/>
<use xlink:href="#E" transform="translate(2262,855) rotate(45) scale(1,1.1)"/>
<use xlink:href="#E" transform="translate(2262,910) rotate(135) scale(1,1.1)"/>
<use xlink:href="#E" transform="translate(2206,910) rotate(-135) scale(1,1.1)"/>
<circle cx="2234" cy="883" r="22"/>

<!-- R14 -->
<use xlink:href="#G" transform="translate(1281,969) scale(1.05,0.9)"/>
<use xlink:href="#G" transform="translate(1309,966) scale(1.05,0.9)"/>
<use xlink:href="#G" transform="translate(1339,964) scale(1.05,0.9)"/>
<use xlink:href="#G" transform="translate(1367,963) scale(1.05,0.9)"/>
<use xlink:href="#G" transform="translate(1395,964) scale(1.05,0.9)"/>
<use xlink:href="#G" transform="translate(1424,966) scale(1.05,0.9)"/>
<use xlink:href="#G" transform="translate(1452,969) scale(1.05,0.9)"/>
<use xlink:href="#G" transform="translate(1281,1044) rotate(180) scale(1.05,0.9)"/>
<use xlink:href="#G" transform="translate(1309,1047) rotate(180) scale(1.05,0.9)"/>
<use xlink:href="#G" transform="translate(1339,1049) rotate(180) scale(1.05,0.9)"/>
<use xlink:href="#G" transform="translate(1367,1050) rotate(180) scale(1.05,0.9)"/>
<use xlink:href="#G" transform="translate(1395,1049) rotate(180) scale(1.05,0.9)"/>
<use xlink:href="#G" transform="translate(1424,1047) rotate(180) scale(1.05,0.9)"/>
<use xlink:href="#G" transform="translate(1452,1044) rotate(180) scale(1.05,0.9)"/>
<use xlink:href="#A" transform="translate(1259,1007) rotate(-90) scale(1.1,0.6)"/>
<use xlink:href="#A" transform="translate(1476,1007) rotate(90) scale(1.1,0.6)"/>
<path d="M1265,982 Q1367,964 1470,982 V1031 Q1367,1049 1265,1031 Z"/>

<!-- R15 -->
<use xlink:href="#B" transform="translate(1572,967) scale(0.7,0.8)"/>
<use xlink:href="#B" transform="translate(1597,963) scale(0.7,0.8)"/>
<use xlink:href="#B" transform="translate(1621,967) scale(0.7,0.8)"/>
<use xlink:href="#B" transform="translate(1572,1021) rotate(180) scale(0.7,0.8)"/>
<use xlink:href="#B" transform="translate(1597,1024) rotate(180) scale(0.7,0.8)"/>
<use xlink:href="#B" transform="translate(1621,1021) rotate(180) scale(0.7,0.8)"/>
<use xlink:href="#B" transform="translate(1556,994) rotate(-90) scale(0.8,0.7)"/>
<use xlink:href="#B" transform="translate(1638,994) rotate(90) scale(0.8,0.7)"/>
<path d="M1566,982 L1566,974 M1597,972 L1597,962 M1628,982 L1628,974" fill="none"/>
<path d="M1563,990 Q1565,974 1595,972 Q1630,972 1632,992 Q1630,1012 1597,1013 Q1565,1012 1563,990Z" stroke-width="2"/>
<path d="M1568,982 Q1580,978 1590,984 T1615,980 T1628,984 M1566,992 Q1580,988 1596,994 T1630,992 M1568,1002 Q1585,998 1600,1004 T1626,1002 M1575,1009 Q1590,1006 1615,1009 M1600,978 Q1610,986 1620,980 M1605,990 Q1615,996 1622,990" fill="none"/>

<!-- R16 -->
<use xlink:href="#B" transform="translate(1769,966) scale(1,1.05)"/>
<use xlink:href="#B" transform="translate(1792,966) scale(1,1.05)"/>
<use xlink:href="#B" transform="translate(1816,966) scale(1,1.05)"/>
<use xlink:href="#B" transform="translate(1769,1026) rotate(180) scale(1,1.05)"/>
<use xlink:href="#B" transform="translate(1792,1026) rotate(180) scale(1,1.05)"/>
<use xlink:href="#B" transform="translate(1816,1026) rotate(180) scale(1,1.05)"/>
<use xlink:href="#C" transform="translate(1739,996) rotate(-90) scale(1.1,0.8)"/>
<use xlink:href="#C" transform="translate(1845,996) rotate(90) scale(1.1,0.8)"/>
<rect x="1750" y="978" width="84" height="36"/>

<!-- R17 -->
<use xlink:href="#C" transform="translate(1975,980) scale(0.9,1)"/>
<use xlink:href="#C" transform="translate(1975,1042) rotate(180) scale(0.9,1)"/>
<use xlink:href="#C" transform="translate(1944,1011) rotate(-90) scale(1,1)"/>
<use xlink:href="#C" transform="translate(2006,1011) rotate(90) scale(1,1)"/>
<ellipse cx="1975" cy="1011" rx="21" ry="22"/>

<!-- R18 -->
<path d="M2075,980 L2084,993 L2075,1006 L2066,993 Z M2123,980 L2132,993 L2123,1006 L2114,993 Z M2075,1030 L2084,1043 L2075,1056 L2066,1043 Z M2123,1030 L2132,1043 L2123,1056 L2114,1043 Z" stroke-width="2"/>
<ellipse cx="2099" cy="1018" rx="20" ry="21"/>

<!-- R19 -->
<use xlink:href="#R" transform="translate(2243,970) scale(0.9,1.25)"/>
<use xlink:href="#R" transform="translate(2243,1040) rotate(180) scale(0.9,1.25)"/>
<use xlink:href="#R" transform="translate(2207,1005) rotate(-90) scale(1,1.2)"/>
<use xlink:href="#R" transform="translate(2279,1005) rotate(90) scale(1,1.2)"/>
<circle cx="2243" cy="1005" r="21" stroke-width="2"/>
<circle cx="2243" cy="1005" r="16" fill="none"/>

<!-- R20 -->
<use xlink:href="#G" transform="translate(1274,1101) scale(1.1,0.9)"/>
<use xlink:href="#G" transform="translate(1306,1098) scale(1.1,0.9)"/>
<use xlink:href="#G" transform="translate(1334,1096) scale(1.1,0.9)"/>
<use xlink:href="#G" transform="translate(1361,1096) scale(1.1,0.9)"/>
<use xlink:href="#G" transform="translate(1389,1097) scale(1.1,0.9)"/>
<use xlink:href="#G" transform="translate(1419,1100) scale(1.1,0.9)"/>
<use xlink:href="#G" transform="translate(1274,1172) rotate(180) scale(1.1,0.9)"/>
<use xlink:href="#G" transform="translate(1306,1175) rotate(180) scale(1.1,0.9)"/>
<use xlink:href="#G" transform="translate(1334,1177) rotate(180) scale(1.1,0.9)"/>
<use xlink:href="#G" transform="translate(1361,1177) rotate(180) scale(1.1,0.9)"/>
<use xlink:href="#G" transform="translate(1389,1176) rotate(180) scale(1.1,0.9)"/>
<use xlink:href="#G" transform="translate(1419,1172) rotate(180) scale(1.1,0.9)"/>
<use xlink:href="#A" transform="translate(1255,1136) rotate(-90) scale(1.2,0.6)"/>
<use xlink:href="#A" transform="translate(1442,1136) rotate(90) scale(1.2,0.6)"/>
<path d="M1260,1113 Q1348,1097 1437,1113 V1160 Q1348,1174 1260,1160 Z"/>

<!-- R21 -->
<use xlink:href="#A" transform="translate(1557,1109) scale(0.85,0.9)"/>
<use xlink:href="#A" transform="translate(1583,1109) scale(0.85,0.9)"/>
<use xlink:href="#A" transform="translate(1605,1109) scale(0.85,0.9)"/>
<use xlink:href="#A" transform="translate(1630,1109) scale(0.85,0.9)"/>
<use xlink:href="#A" transform="translate(1557,1162) rotate(180) scale(0.85,0.9)"/>
<use xlink:href="#A" transform="translate(1583,1162) rotate(180) scale(0.85,0.9)"/>
<use xlink:href="#A" transform="translate(1605,1162) rotate(180) scale(0.85,0.9)"/>
<use xlink:href="#A" transform="translate(1630,1162) rotate(180) scale(0.85,0.9)"/>
<use xlink:href="#A" transform="translate(1537,1135) rotate(-90) scale(0.95,0.8)"/>
<use xlink:href="#A" transform="translate(1653,1135) rotate(90) scale(0.95,0.8)"/>
<path d="M1546,1119 Q1595,1113 1644,1119 V1151 Q1595,1157 1546,1151 Z"/>

<!-- R22 -->
<use xlink:href="#R" transform="translate(1766,1107) scale(1,1.15)"/>
<use xlink:href="#R" transform="translate(1792,1107) scale(1,1.15)"/>
<use xlink:href="#R" transform="translate(1818,1107) scale(1,1.15)"/>
<use xlink:href="#R" transform="translate(1766,1165) rotate(180) scale(1,1.15)"/>
<use xlink:href="#R" transform="translate(1792,1165) rotate(180) scale(1,1.15)"/>
<use xlink:href="#R" transform="translate(1818,1165) rotate(180) scale(1,1.15)"/>
<use xlink:href="#C" transform="translate(1743,1136) rotate(-90) scale(1.1,0.8)"/>
<use xlink:href="#C" transform="translate(1842,1136) rotate(90) scale(1.1,0.8)"/>
<path d="M1753,1119 H1832 Q1835,1136 1832,1154 H1753 Q1750,1136 1753,1119 Z"/>

<!-- R23 -->
<use xlink:href="#D" transform="translate(1963,1106) scale(1,1.1)"/>
<use xlink:href="#D" transform="translate(1992,1106) scale(1,1.1)"/>
<use xlink:href="#D" transform="translate(1963,1166) rotate(180) scale(1,1.1)"/>
<use xlink:href="#D" transform="translate(1992,1166) rotate(180) scale(1,1.1)"/>
<use xlink:href="#A" transform="translate(1929,1136) rotate(-90) scale(1,1.1)" stroke-width="2"/>
<use xlink:href="#A" transform="translate(2022,1136) rotate(90) scale(1,1.1)" stroke-width="2"/>
<rect x="1940" y="1118" width="71" height="36" stroke-width="2"/>

<!-- R24 -->
<use xlink:href="#B" transform="translate(2090,1103) scale(1.05,1.3)"/>
<use xlink:href="#B" transform="translate(2117,1103) scale(1.05,1.3)"/>
<use xlink:href="#B" transform="translate(2090,1170) rotate(180) scale(1.05,1.3)"/>
<use xlink:href="#B" transform="translate(2117,1170) rotate(180) scale(1.05,1.3)"/>
<path d="M2071,1116 H2136 L2143,1123 V1150 L2136,1157 H2071 L2064,1150 V1123 Z" stroke-width="2"/>
<rect x="2070" y="1121" width="67" height="31" rx="4" fill="none"/>

<!-- R25 -->
<use xlink:href="#G" transform="translate(2223,1105) scale(1,0.9)"/>
<use xlink:href="#G" transform="translate(2249,1105) scale(1,0.9)"/>
<use xlink:href="#G" transform="translate(2223,1168) rotate(180) scale(1,0.9)"/>
<use xlink:href="#G" transform="translate(2249,1168) rotate(180) scale(1,0.9)"/>
<use xlink:href="#A" transform="translate(2190,1136) rotate(-90) scale(1.1,0.6)"/>
<use xlink:href="#A" transform="translate(2282,1136) rotate(90) scale(1.1,0.6)"/>
<rect x="2196" y="1113" width="80" height="45"/>
</g>

</g>
</svg>
</body></html>
